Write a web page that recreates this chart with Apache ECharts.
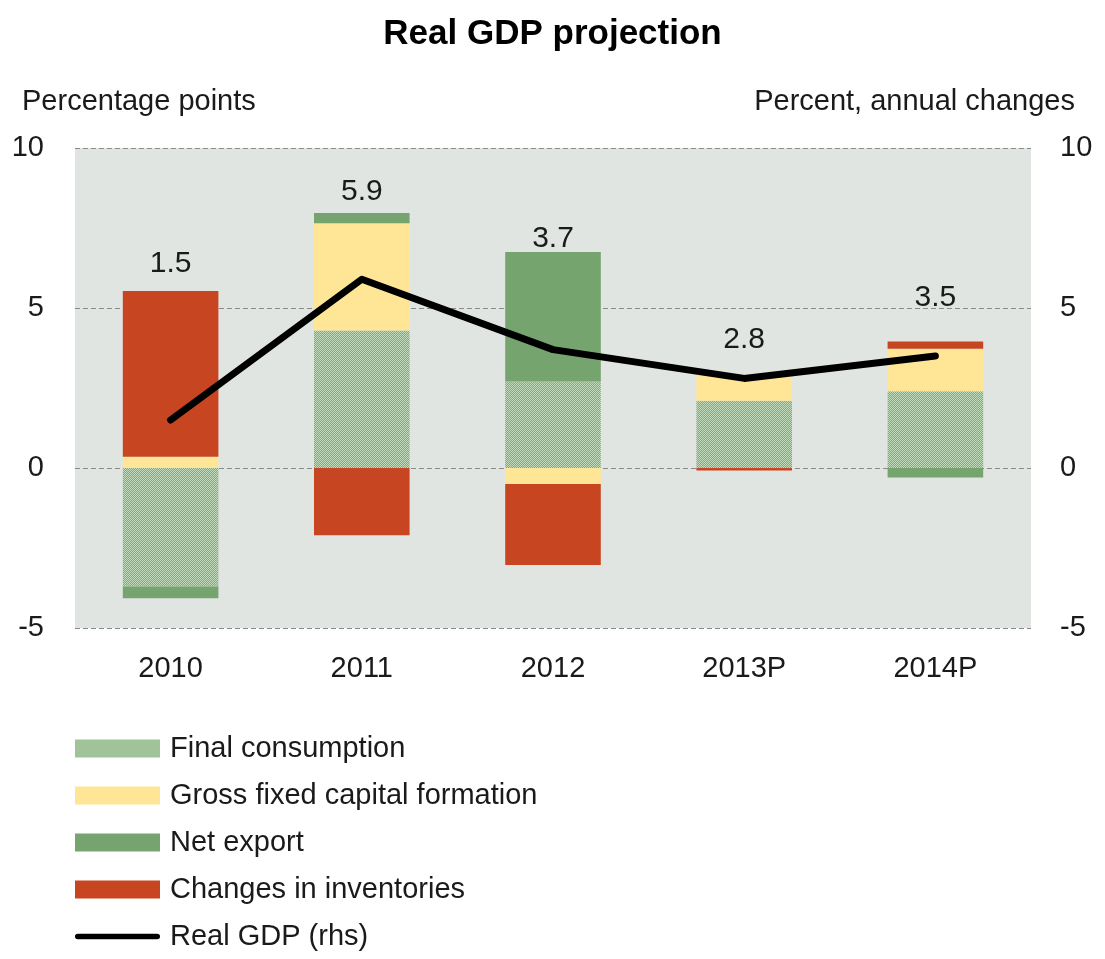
<!DOCTYPE html>
<html>
<head>
<meta charset="utf-8">
<script src="https://cdn.jsdelivr.net/npm/echarts@6/dist/echarts.min.js"></script>
<style>
html,body{margin:0;padding:0;background:#fff;}
#c{width:1105px;height:959px;}
</style>
</head>
<body>
<div id="c"></div>
<script>
const categories = ['2010', '2011', '2012', '2013P', '2014P'];
const finalConsumption = [-3.7, 4.3, 2.7, 2.1, 2.4];
const grossFixedCapital = [0.35, 3.35, -0.5, 0.78, 1.33];
const netExport = [-0.37, 0.32, 4.05, 0, -0.3];
const inventories = [5.18, -2.1, -2.53, -0.08, 0.22];
const realGDP = [1.5, 5.9, 3.7, 2.8, 3.5];
const gdpLabelOffsets = [-156, -87, -111, -39, -58];
const yTicks = [-5, 0, 5, 10];

const FONT = "'Liberation Sans', Arial, sans-serif";

// dotted pattern for final consumption
const pc = document.createElement('canvas');
pc.width = 2; pc.height = 2;
const px = pc.getContext('2d');
px.fillStyle = '#7dac76'; px.fillRect(0,0,2,2);
px.fillStyle = '#c3dbbd'; px.fillRect(0,0,1,1); px.fillRect(1,1,1,1);
const fcPattern = {image: pc, repeat: 'repeat'};

const chart = echarts.init(document.getElementById('c'), null, {renderer: 'canvas'});

const yAxisCommon = {
  type: 'value', min: -5, max: 10, interval: 5,
  axisLine: {show: false}, axisTick: {show: false},
  axisLabel: {fontFamily: FONT, fontSize: 29, color: '#1a1a1a'}
};

chart.setOption({
  animation: false,
  backgroundColor: '#fff',
  title: [
    {text: 'Real GDP projection', left: 'center', top: 12,
     textStyle: {fontFamily: FONT, fontSize: 35, fontWeight: 'bold', color: '#000'}},
    {text: 'Percentage points', left: 17, top: 82,
     textStyle: {fontFamily: FONT, fontSize: 29, fontWeight: 'normal', color: '#1a1a1a'}},
    {text: 'Percent, annual changes', right: 25, top: 82,
     textStyle: {fontFamily: FONT, fontSize: 29, fontWeight: 'normal', color: '#1a1a1a'}}
  ],
  grid: {left: 75, right: 74, top: 148, bottom: 331, containLabel: false,
         show: true, backgroundColor: '#e1e5e2', borderWidth: 0},
  legend: {
    orient: 'vertical', left: 75, top: 734, padding: 0,
    itemWidth: 85, itemHeight: 18, itemGap: 18,
    textStyle: {fontFamily: FONT, fontSize: 29, color: '#1a1a1a', padding: [0,0,0,5]},
    data: [
      {name: 'Final consumption', icon: 'rect'},
      {name: 'Gross fixed capital formation', icon: 'rect'},
      {name: 'Net export', icon: 'rect'},
      {name: 'Changes in inventories', icon: 'rect'},
      {name: 'Real GDP (rhs)', icon: 'path://M3,0 H89 A3,3 0 0 1 89,6 H3 A3,3 0 0 1 3,0 Z',
       itemStyle: {color: '#000', borderWidth: 0}}]
  },
  xAxis: {
    type: 'category', data: categories,
    axisLine: {show: false}, axisTick: {show: false},
    axisLabel: {fontFamily: FONT, fontSize: 29, color: '#1a1a1a', margin: 26}
  },
  yAxis: [
    Object.assign({}, yAxisCommon, {position: 'left',
      axisLabel: Object.assign({}, yAxisCommon.axisLabel, {margin: 31}),
      splitLine: {show: true, lineStyle: {color: '#8a8a8a', type: [5, 3], width: 1}}}),
    Object.assign({}, yAxisCommon, {position: 'right',
      axisLabel: Object.assign({}, yAxisCommon.axisLabel, {margin: 29}),
      splitLine: {show: false}})
  ],
  series: [
    {name: 'Final consumption', type: 'bar', stack: 'a', barWidth: '50%', data: finalConsumption,
     itemStyle: {color: fcPattern}},
    {name: 'Gross fixed capital formation', type: 'bar', stack: 'a', data: grossFixedCapital,
     itemStyle: {color: '#ffe596'}},
    {name: 'Net export', type: 'bar', stack: 'a', data: netExport,
     itemStyle: {color: '#76a46e'}},
    {name: 'Changes in inventories', type: 'bar', stack: 'a', data: inventories,
     itemStyle: {color: '#c84522'}},
    {name: 'Real GDP (rhs)', type: 'line', yAxisIndex: 1, data: realGDP.map((v, i) => ({
        value: v,
        label: {offset: [0, gdpLabelOffsets[i]]}
      })),
     showSymbol: true, symbol: 'circle', symbolSize: 2, z: 10,
     lineStyle: {color: '#000', width: 7, cap: 'round', join: 'round'},
     itemStyle: {color: '#000'},
     label: {show: true, position: 'inside', fontFamily: FONT, fontSize: 30, color: '#1a1a1a',
             formatter: p => p.value.toFixed(1)}}
  ]
});
</script>
</body>
</html>
